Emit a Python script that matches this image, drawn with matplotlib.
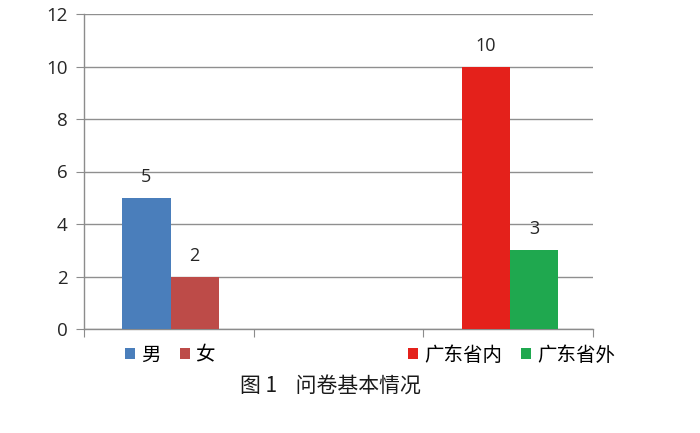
import matplotlib
matplotlib.use("Agg")
import matplotlib.pyplot as plt
import numpy as np

plt.rcParams['font.family'] = ['Open Sans', 'Noto Sans CJK SC', 'DejaVu Sans']

# Survey composition: gender in the first slot, origin in the third
slots = ["性别", "", "来源"]
series = ["男", "女", "广东省内", "广东省外"]
slot_of_series = [0, 0, 2, 2]
values = [5, 2, 10, 3]
colors = ["#4a7ebb", "#bd4b48", "#e4211b", "#1fa84f"]
yticks = [0, 2, 4, 6, 8, 10, 12]

fig = plt.figure(figsize=(7.0, 4.33), dpi=100)
ax = fig.add_axes([84 / 700, 1 - 329 / 433, (593 - 84) / 700, (329 - 14) / 433])

width = 0.285
handles = []
for i, (name, s, v, c) in enumerate(zip(series, slot_of_series, values, colors)):
    offset = -width / 2 if i % 2 == 0 else width / 2
    x = s + 0.51 + offset
    b = ax.bar(x, v, width=width, color=c, label=name, zorder=3)
    handles.append(b)
    ax.text(x, v + 0.45, str(v), ha="center", va="bottom", fontsize=13,
            color="#262626")

ax.set_xlim(0, len(slots))
ax.set_ylim(0, 12)
ax.set_yticks(yticks)
ax.set_yticklabels([str(t) for t in yticks], fontsize=13.5, color="#262626")
ax.set_xticks(np.arange(len(slots) + 1))
ax.set_xticklabels([])
ax.tick_params(axis="y", length=6, color="#8c8c8c", pad=6)
ax.tick_params(axis="x", length=6, color="#8c8c8c")
ax.yaxis.grid(True, color="#8f8f8f", linewidth=1.0, zorder=0)
ax.set_axisbelow(True)
for side in ("top", "right"):
    ax.spines[side].set_visible(False)
for side in ("left", "bottom"):
    ax.spines[side].set_color("#8c8c8c")
    ax.spines[side].set_linewidth(1.0)

legend_kw = dict(frameon=False, ncol=2, handlelength=0.5, handleheight=0.5,
                 handletextpad=0.3, columnspacing=1.0, borderpad=0,
                 prop={"family": ["Noto Sans CJK SC"], "size": 14})
leg1 = ax.legend(handles[:2], series[:2], loc="center left",
                 bbox_to_anchor=(0.062, -0.083), **legend_kw)
ax.add_artist(leg1)
ax.legend(handles[2:], series[2:], loc="center left",
          bbox_to_anchor=(0.618, -0.083), **legend_kw)

fig.text(330 / 700, 1 - 386 / 433, "图 1    问卷基本情况", ha="center", va="center",
         fontsize=15, family=["Noto Sans CJK SC"], color="#1a1a1a")

fig.savefig("out.png", dpi=100)
